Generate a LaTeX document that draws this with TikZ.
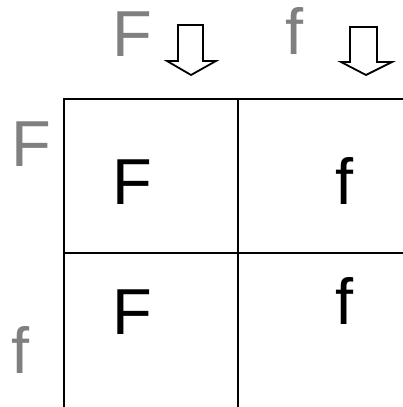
\documentclass[tikz,border=0pt]{standalone}
\usepackage{fontspec}
\setmainfont{Liberation Sans}
\definecolor{lblgray}{RGB}{128,128,128}
\tikzset{
  big/.style={inner sep=0pt, anchor=base, font=\fontsize{65}{70}\selectfont},
  hdr/.style={big, text=lblgray},
  cell/.style={big, text=black},
  gridline/.style={line width=2pt, line cap=rect},
  outarrow/.style={line width=1.8pt, line join=miter, fill=white}
}
\begin{document}
\begin{tikzpicture}[x=1pt,y=1pt]
\useasboundingbox (0,0) rectangle (403,407);
% grid
\coordinate (tl) at (64,308);
\coordinate (tr) at (403,308);
\coordinate (bl) at (64,0);
\coordinate (tm) at (238,308);
\coordinate (bm) at (238,0);
\coordinate (ml) at (64,154);
\coordinate (mr) at (403,154);
\draw[gridline] (tr) -- (tl) -- (bl);
\draw[gridline] (tm) -- (bm);
\draw[gridline] (ml) -- (mr);
% header labels
\node[hdr] (hF) at (132,350) {F};
\node[hdr] (hf) at (295,352) {f};
\node[hdr] (vF) at (31,240) {F};
\node[hdr] (vf) at (21,34) {f};
% cells
\node[cell] (c11) at (132,202) {F};
\node[cell] (c12) at (345,202) {f};
\node[cell] (c21) at (132,72) {F};
\node[cell] (c22) at (345,82) {f};
% outline arrows
\draw[outarrow] (178,382) -- (203,382) -- (203,346) -- (216,346) -- (191,332) -- (167,346) -- (178,346) -- cycle;
\draw[outarrow] (350,380) -- (377,380) -- (377,345) -- (392,345) -- (366,332) -- (341,345) -- (350,345) -- cycle;
\end{tikzpicture}
\end{document}
